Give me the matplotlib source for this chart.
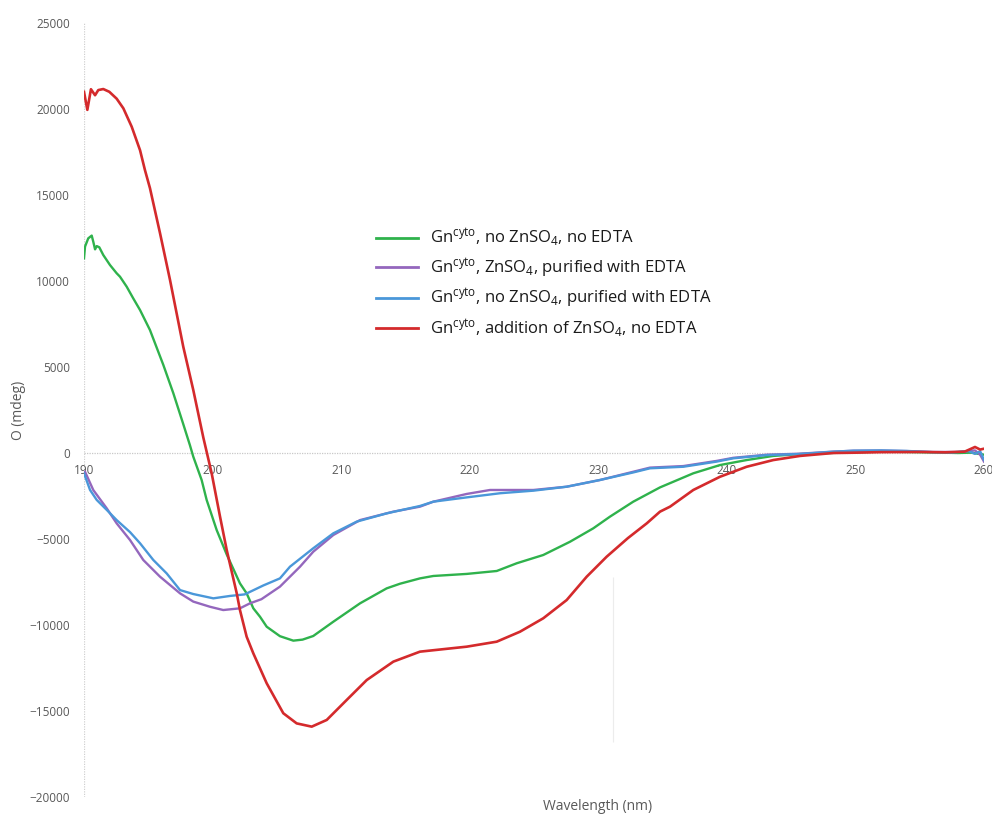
import matplotlib
matplotlib.use("Agg")
import matplotlib.pyplot as plt

plt.rcParams['font.family'] = ['Open Sans', 'DejaVu Sans']
plt.rcParams['mathtext.fontset'] = 'custom'
plt.rcParams['mathtext.rm'] = 'Open Sans'

# CD spectra: wavelength (nm) and ellipticity (mdeg)
green_wl = [190.0, 190.08, 190.33, 190.6, 190.72, 190.86, 190.99, 191.19, 191.5, 192.02,
            192.54, 192.8, 193.32, 193.83, 194.36, 195.13, 196.17, 196.95, 197.72, 198.24,
            198.5, 199.15, 199.54, 200.32, 201.1, 202.13, 202.65, 203.17, 203.69, 204.21,
            205.24, 206.28, 207.0, 207.83, 209.39, 211.47, 213.54, 214.58, 216.13, 217.17,
            219.77, 222.1, 223.66, 225.72, 227.8, 229.61, 230.91, 232.72, 234.8, 237.39,
            239.47, 241.54, 243.61, 245.69, 248.0, 250.0, 252.0, 254.0, 256.0, 258.0,
            259.0, 260.0]
green_val = [11320, 12000, 12480, 12640, 12290, 11840, 12030, 11960, 11510, 10930,
             10450, 10250, 9670, 8990, 8310, 7150, 5120, 3470, 1680, 450,
             -215, -1570, -2730, -4480, -5900, -7580, -8160, -9030, -9520, -10100,
             -10650, -10910, -10850, -10640, -9810, -8740, -7870, -7600, -7290, -7150,
             -7030, -6860, -6410, -5930, -5160, -4380, -3700, -2830, -2000, -1180,
             -700, -410, -170, -60, 0, 40, 80, 60, 30, 0,
             20, -100]

purple_wl = [190.08, 190.72, 191.77, 192.54, 193.58, 194.61, 195.91, 197.47, 198.5, 199.8,
             200.83, 202.13, 202.91, 203.8, 205.24, 206.8, 207.83, 209.39, 211.47, 214.06,
             216.13, 217.17, 219.77, 221.58, 224.95, 227.54, 230.13, 232.72, 234.02, 236.61,
             239.21, 240.5, 243.1, 245.69, 248.28, 249.84, 252.0, 254.0, 256.0, 258.0,
             259.3, 259.7, 260.0]
purple_val = [-1090, -2150, -3220, -4090, -5060, -6220, -7190, -8160, -8640, -8940,
              -9130, -9030, -8740, -8500, -7770, -6610, -5740, -4770, -3900, -3410,
              -3120, -2830, -2380, -2150, -2150, -1960, -1570, -1090, -850, -760,
              -460, -280, -100, -40, 80, 130, 140, 110, 60, 60,
              150, -100, -500]

blue_wl = [190.0, 190.47, 190.99, 191.77, 192.54, 193.58, 194.36, 195.39, 196.43, 197.47,
           198.5, 200.06, 201.36, 202.5, 203.95, 205.24, 206.02, 207.83, 209.39, 211.21,
           213.54, 216.13, 217.17, 219.77, 222.36, 224.95, 227.54, 230.13, 232.72, 234.02,
           236.61, 239.21, 240.5, 243.1, 245.69, 248.28, 249.84, 252.0, 254.0, 256.0,
           257.5, 258.8, 259.3, 259.7, 260.0]
blue_val = [-1180, -2150, -2730, -3310, -3900, -4600, -5250, -6220, -7000, -7970,
            -8200, -8450, -8310, -8220, -7700, -7290, -6610, -5540, -4670, -3990,
            -3510, -3080, -2830, -2580, -2340, -2190, -1960, -1570, -1130, -890,
            -800, -500, -310, -120, -60, 76, 134, 150, 120, 50,
            30, 120, -50, 100, -400]

red_wl = [190.0, 190.26, 190.54, 190.86, 191.11, 191.5, 191.97, 192.54, 193.06, 193.71,
          194.36, 194.74, 195.13, 195.91, 196.69, 197.72, 198.5, 199.28, 199.93, 200.58,
          201.1, 201.88, 202.13, 202.65, 203.17, 204.21, 205.5, 206.54, 207.71, 208.88,
          210.43, 211.99, 214.06, 216.13, 219.77, 222.1, 223.91, 225.72, 227.54, 229.1,
          230.65, 232.3, 233.77, 234.8, 235.58, 237.39, 239.47, 241.54, 243.61, 245.69,
          248.28, 249.84, 252.0, 255.0, 257.0, 258.5, 259.3, 259.7, 260.0]
red_val = [21000, 19950, 21150, 20800, 21100, 21160, 21000, 20600, 20040, 18970,
           17600, 16450, 15400, 12790, 10060, 6180, 3660, 900, -1180, -3700,
           -5640, -8160, -9130, -10680, -11650, -13390, -15130, -15720, -15910, -15520,
           -14360, -13200, -12130, -11550, -11260, -10970, -10390, -9610, -8550, -7190,
           -6030, -4950, -4090, -3410, -3120, -2150, -1380, -800, -410, -170,
           0, 17, 50, 60, 40, 80, 350, 200, 250]

labels = [r"Gn$\mathregular{^{cyto}}$, no ZnSO$\mathregular{_{4}}$, no EDTA",
          r"Gn$\mathregular{^{cyto}}$, ZnSO$\mathregular{_{4}}$, purified with EDTA",
          r"Gn$\mathregular{^{cyto}}$, no ZnSO$\mathregular{_{4}}$, purified with EDTA",
          r"Gn$\mathregular{^{cyto}}$, addition of ZnSO$\mathregular{_{4}}$, no EDTA"]

x_ticks = [190, 200, 210, 220, 230, 240, 250, 260]
y_ticks = [-20000, -15000, -10000, -5000, 0, 5000, 10000, 15000, 20000, 25000]

GREEN = "#2fb24c"
PURPLE = "#9467bd"
BLUE = "#4a97d9"
RED = "#d42a2c"
GREY = "#595959"

fig = plt.figure(figsize=(9.92, 8.16), dpi=100)
ax = fig.add_axes([84 / 992, 1 - 797 / 816, 900 / 992, 774 / 816])

ax.plot(green_wl, green_val, color=GREEN, lw=1.7, label=labels[0])
ax.plot(purple_wl, purple_val, color=PURPLE, lw=1.7, label=labels[1])
ax.plot(blue_wl, blue_val, color=BLUE, lw=1.7, label=labels[2])
ax.plot(red_wl, red_val, color=RED, lw=1.9, label=labels[3])

# faint stray gridline visible in the original
ax.vlines(231.15, -16800, -7200, color="#ececec", lw=0.8, zorder=0)

ax.set_xlim(190, 260)
ax.set_ylim(-20000, 25000)
ax.axhline(0, color="#c8c8c8", lw=0.9, ls=(0, (1, 1)), zorder=0)
ax.axvline(190, color="#d0d0d0", lw=0.9, ls=(0, (1, 1)), zorder=0)

for side in ["top", "right", "left", "bottom"]:
    ax.spines[side].set_visible(False)
ax.spines["bottom"].set_position(("data", 0))
ax.set_xticks(x_ticks)
ax.set_yticks(y_ticks)
ax.tick_params(axis="both", length=0, labelcolor=GREY, labelsize=8.5)
ax.tick_params(axis="x", pad=8)
ax.tick_params(axis="y", pad=10)

fig.text(598 / 992, 1 - 806 / 816, "Wavelength (nm)", ha="center", va="center",
         color=GREY, fontsize=10)
fig.text(18 / 992, 1 - 410 / 816, "O (mdeg)", ha="center", va="center",
         rotation=90, color=GREY, fontsize=10)

leg = ax.legend(loc="upper left", bbox_to_anchor=(376 / 992, 1 - 227 / 816),
                bbox_transform=fig.transFigure, frameon=False, fontsize=12,
                handlelength=2.5, handletextpad=0.75, labelspacing=0.42,
                borderpad=0, borderaxespad=0)
for line in leg.get_lines():
    line.set_linewidth(2.0)
for txt in leg.get_texts():
    txt.set_color("#1a1a1a")

fig.savefig("out.png", dpi=100)
